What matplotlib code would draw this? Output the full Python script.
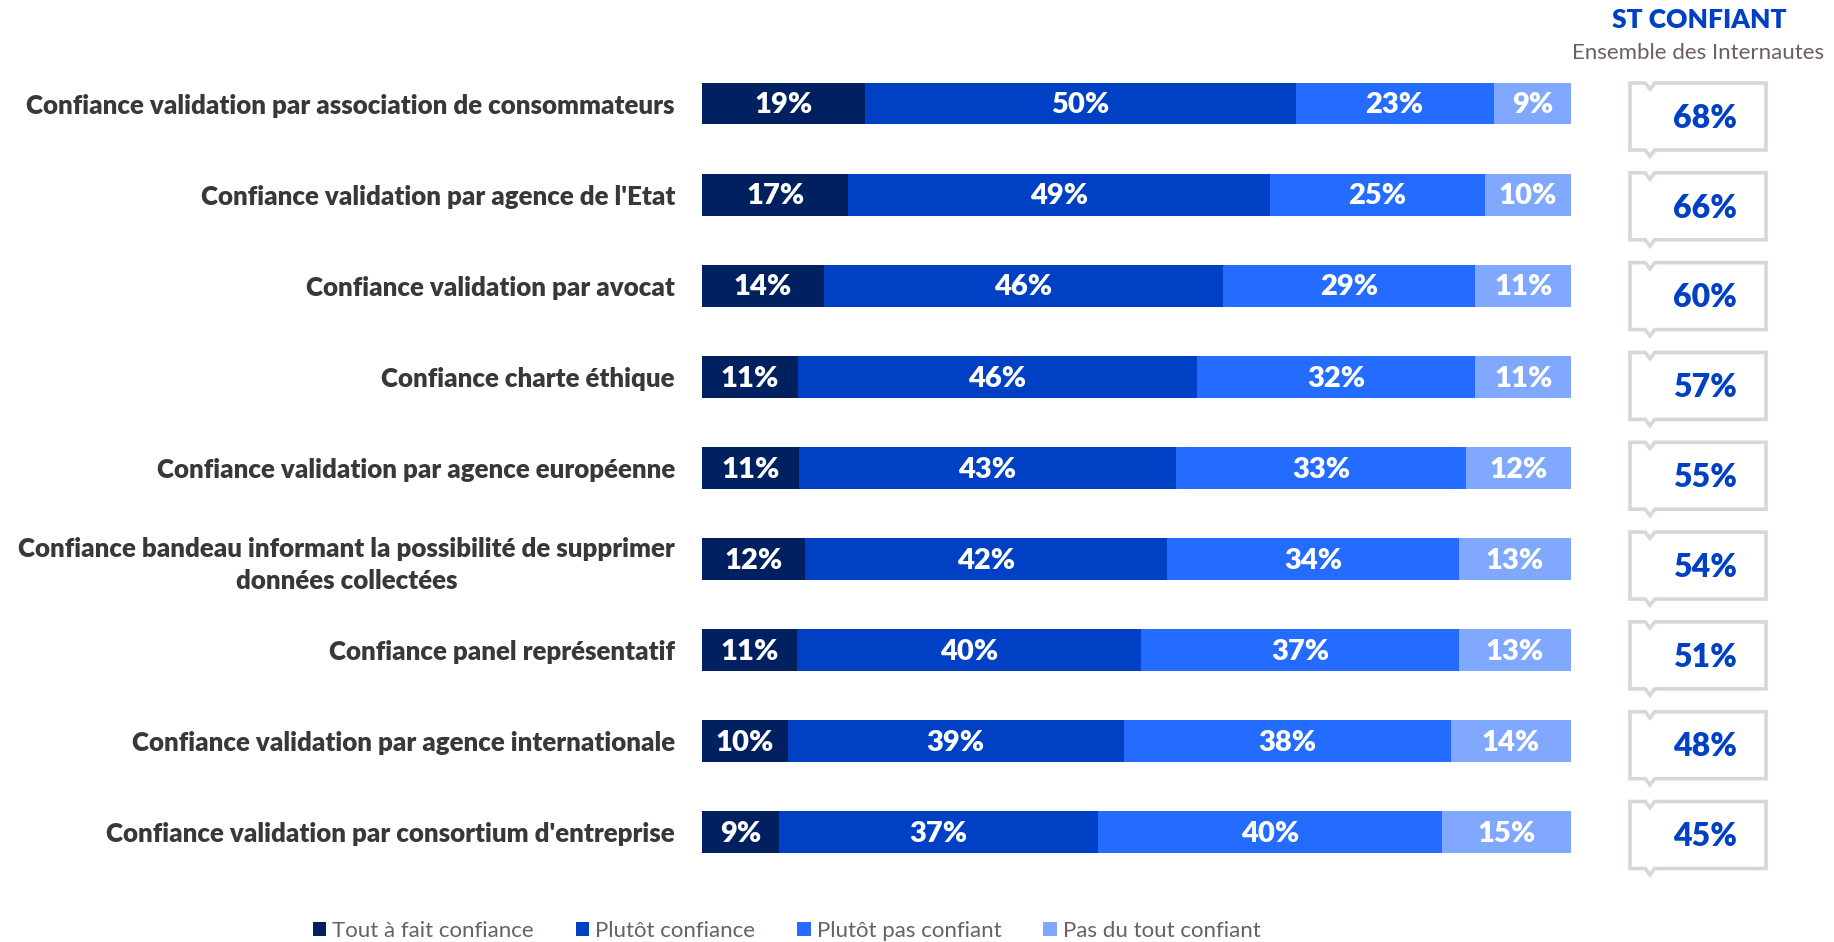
import matplotlib
matplotlib.use("Agg")
import matplotlib.pyplot as plt
from matplotlib.patches import Polygon, Patch
import numpy as np

plt.rcParams['font.family'] = ['Lato', 'DejaVu Sans']

categories = [
    "Confiance validation par association de consommateurs",
    "Confiance validation par agence de l'Etat",
    "Confiance validation par avocat",
    "Confiance charte éthique",
    "Confiance validation par agence européenne",
    "Confiance bandeau informant la possibilité de supprimer\ndonnées collectées",
    "Confiance panel représentatif",
    "Confiance validation par agence internationale",
    "Confiance validation par consortium d'entreprise",
]
series_names = ["Tout à fait confiance", "Plutôt confiance", "Plutôt pas confiant", "Pas du tout confiant"]
tout_a_fait = [19, 17, 14, 11, 11, 12, 11, 10, 9]
plutot = [50, 49, 46, 46, 43, 42, 40, 39, 37]
plutot_pas = [23, 25, 29, 32, 33, 34, 37, 38, 40]
pas_du_tout = [9, 10, 11, 11, 12, 13, 13, 14, 15]
st_confiant = [68, 66, 60, 57, 55, 54, 51, 48, 45]

colors = ['#002060', '#0040C4', '#246BFF', '#80A8FF']
title_color = '#0040C4'
label_color = '#383838'
legend_text_color = '#6B5F5F'
box_color = '#DAD6D6'

W, H = 1834, 942
fig = plt.figure(figsize=(W / 100, H / 100), dpi=100)

# main bar axes
top_px, bot_px = 58.0, 877.5
ax = fig.add_axes([702 / W, 1 - bot_px / H, (1571 - 702) / W, (bot_px - top_px) / H])
data = np.array([tout_a_fait, plutot, plutot_pas, pas_du_tout], dtype=float)
totals = data.sum(axis=0)
norm = data / totals * 100
y = np.arange(len(categories))
left = np.zeros(len(categories))
for k in range(4):
    ax.barh(y, norm[k], left=left, height=0.46, color=colors[k], edgecolor='none', label=series_names[k])
    for i in range(len(categories)):
        ax.text(left[i] + norm[k][i] / 2, y[i] + 0.02, f"{int(data[k][i])}%", ha='center', va='center',
                color='white', fontsize=21, fontweight='heavy')
    left += norm[k]
ax.set_xlim(0, 100)
ax.set_ylim(len(categories) - 0.5, -0.5)
ax.set_yticks(y)
ax.set_yticklabels(categories, fontsize=18.6, fontweight='heavy', color=label_color, multialignment='center',
                   linespacing=1.42)
ax.tick_params(axis='y', length=0, pad=19.5)
ax.set_xticks([])
for s in ax.spines.values():
    s.set_visible(False)

# callout boxes axes
btop, bbot = 71.6, 879.9
bx = fig.add_axes([1630 / W, 1 - bbot / H, (1766 - 1630) / W, (bbot - btop) / H])
bx.set_xlim(0, 1)
bx.set_ylim(len(categories) - 0.5, -0.5)
bx.axis('off')
h = 0.373
nx, nw, d = 0.147, 0.035, 0.07
for i, v in enumerate(st_confiant):
    pts = [(0, i - h), (nx - nw, i - h), (nx, i - h + d), (nx + nw, i - h), (1, i - h),
           (1, i + h), (nx + nw, i + h), (nx, i + h + d), (nx - nw, i + h), (0, i + h)]
    bx.add_patch(Polygon(pts, closed=True, facecolor='white', edgecolor=box_color, linewidth=2.6,
                         joinstyle='miter', clip_on=False))
    bx.text(0.55, i + 0.02, f"{v}%", ha='center', va='center', color=title_color, fontsize=23,
            fontweight='heavy')

fig.text(1699 / W, 1 - 20 / H, "ST CONFIANT", ha='center', va='center', color=title_color,
         fontsize=19, fontweight='heavy')
fig.text(1698 / W, 1 - 53 / H, "Ensemble des Internautes", ha='center', va='center', color=legend_text_color,
         fontsize=16)

handles = [Patch(facecolor=c, edgecolor='none') for c in colors]
leg = fig.legend(handles, series_names, loc='center', bbox_to_anchor=((318 + 1255) / 2 / W, 1 - 931 / H),
                 ncol=4, frameon=False, fontsize=16, handlelength=0.62, handleheight=0.62,
                 handletextpad=0.25, columnspacing=1.9, labelcolor=legend_text_color, borderpad=0,
                 borderaxespad=0)

fig.savefig("out.png", dpi=100)
